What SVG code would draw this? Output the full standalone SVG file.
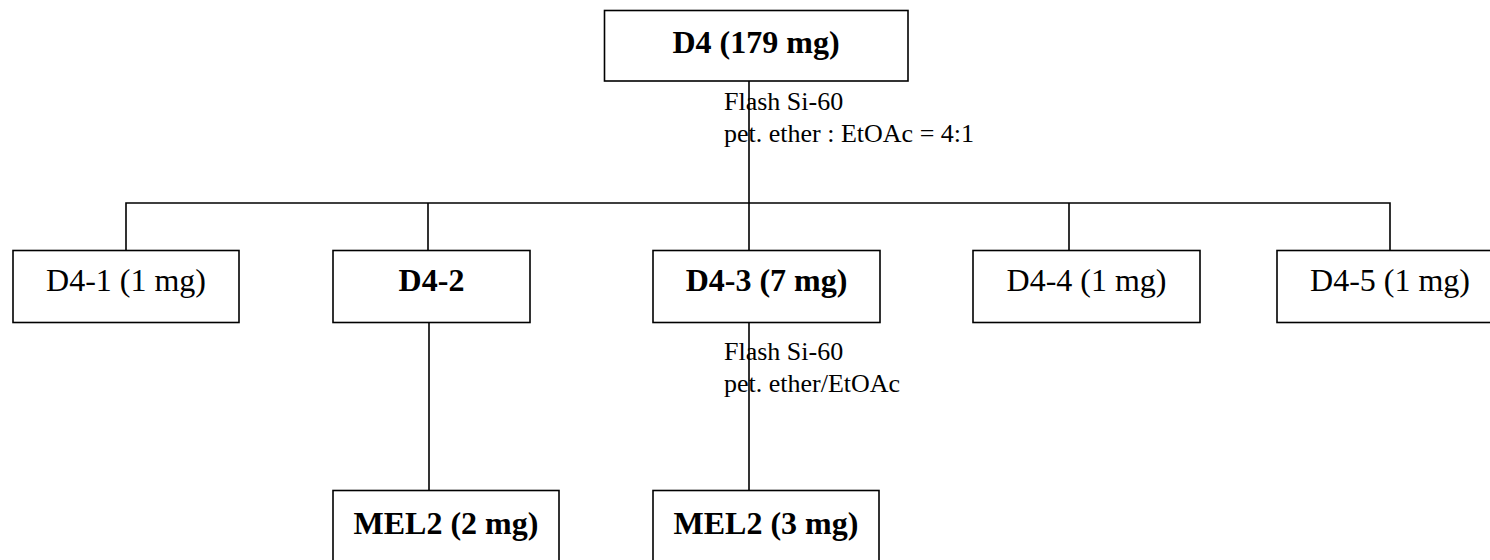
<svg xmlns="http://www.w3.org/2000/svg" width="1490" height="560" viewBox="0 0 1490 560">
<style>
.box{fill:#fff;stroke:#000;stroke-width:1.6}
.ln{fill:none;stroke:#000;stroke-width:1.6}
.t{font-family:"Liberation Serif","Times New Roman",serif;font-size:32px;fill:#000;text-anchor:middle}
.b{font-weight:bold}
.c{font-family:"Liberation Serif","Times New Roman",serif;font-size:26px;fill:#000}
</style>
<rect width="1490" height="560" fill="#fff"/>
<g id="nodes">
<g id="d4"><rect class="box" x="604.5" y="10.5" width="303.5" height="70.5"/><text class="t b" x="756" y="53">D4 (179 mg)</text></g>
<g id="d4-1"><rect class="box" x="13" y="250.5" width="226" height="72"/><text class="t" x="126" y="291">D4-1 (1 mg)</text></g>
<g id="d4-2"><rect class="box" x="333" y="250.5" width="197" height="72"/><text class="t b" x="431.5" y="291">D4-2</text></g>
<g id="d4-3"><rect class="box" x="653" y="250.5" width="227" height="72"/><text class="t b" x="766.5" y="291">D4-3 (7 mg)</text></g>
<g id="d4-4"><rect class="box" x="973" y="250.5" width="227" height="72"/><text class="t" x="1086.5" y="291">D4-4 (1 mg)</text></g>
<g id="d4-5"><rect class="box" x="1277" y="250.5" width="226" height="72"/><text class="t" x="1390" y="291">D4-5 (1 mg)</text></g>
<g id="mel2-2"><rect class="box" x="333" y="490.5" width="226" height="100"/><text class="t b" x="446" y="534">MEL2 (2 mg)</text></g>
<g id="mel2-3"><rect class="box" x="653" y="490.5" width="226" height="100"/><text class="t b" x="766" y="534">MEL2 (3 mg)</text></g>
</g>
<g id="labels">
<text class="c" x="724" y="110">Flash Si-60</text>
<text class="c" x="724" y="142">pet. ether : EtOAc = 4:1</text>
<text class="c" x="724" y="360">Flash Si-60</text>
<text class="c" x="724" y="392">pet. ether/EtOAc</text>
</g>
<g id="connectors">
<path class="ln" d="M749 81 V250.5 M126 250.5 V203 H1390 V250.5 M428 203 V250.5 M1069 203 V250.5"/>
<path class="ln" d="M429 322.5 V490.5"/>
<path class="ln" d="M749 322.5 V490.5"/>
</g>
</svg>
